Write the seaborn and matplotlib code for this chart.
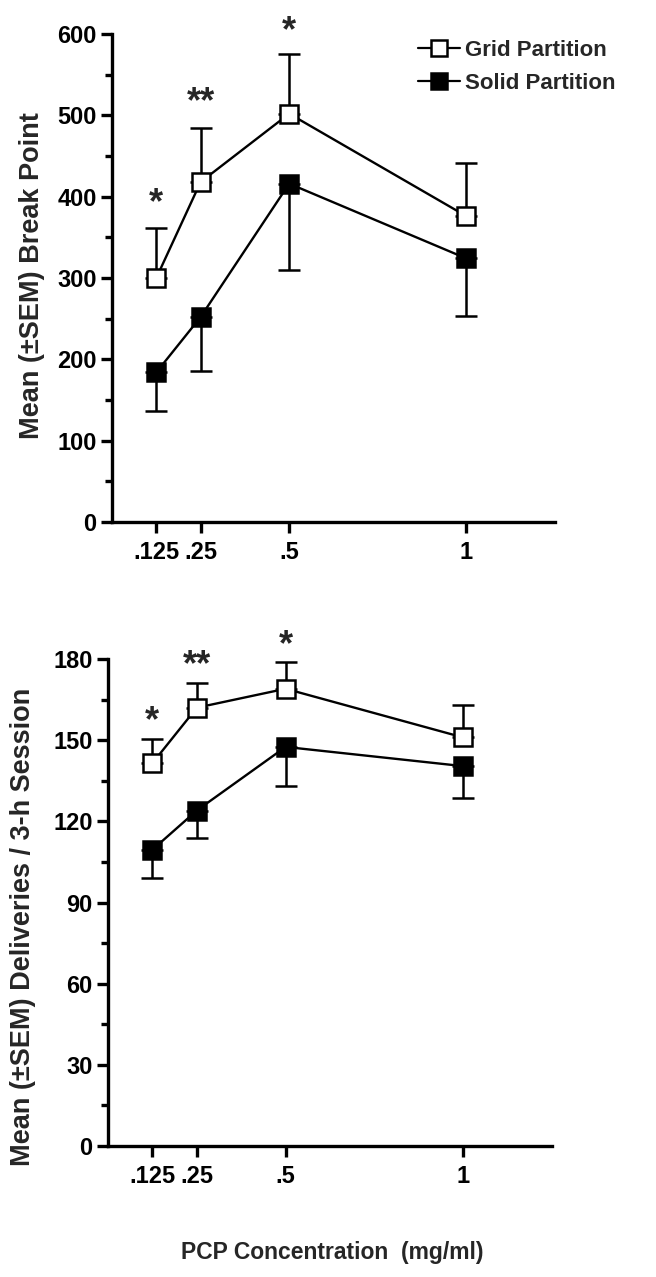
import matplotlib
matplotlib.use("Agg")
import matplotlib.pyplot as plt
from matplotlib.ticker import MultipleLocator
from matplotlib.lines import Line2D
import pandas as pd
import seaborn as sns

## DATOS ##

conc = [0.125, 0.25, 0.5, 1.0]
conc_labels = [".125", ".25", ".5", "1"]

bp_grid = [300, 418, 502, 376]
bp_grid_sem = [61, 66, 74, 66]
bp_solid = [184, 252, 416, 324]
bp_solid_sem = [48, 66, 106, 71]

del_grid = [141.5, 162, 169, 151]
del_grid_sem = [9, 9, 10, 12]
del_solid = [109.5, 124, 147.5, 140.4]
del_solid_sem = [10.5, 10, 14.5, 11.8]

# asteriscos de significancia: (x, y, texto)
stars_bp = [(0.125, 392, "*"), (0.25, 516, "**"), (0.5, 603, "*")]
stars_del = [(0.125, 157, "*"), (0.25, 177.5, "**"), (0.5, 185, "*")]

sns.set_style("ticks")
plt.rcParams["font.family"] = ["Liberation Sans", "DejaVu Sans"]
plt.rcParams["font.weight"] = "bold"


def draw_panel(ax, grid, grid_sem, solid, solid_sem, stars, ymax, ystep, ylabel):
    df = pd.DataFrame({
        "conc": conc * 2,
        "value": grid + solid,
        "group": ["Grid Partition"] * 4 + ["Solid Partition"] * 4,
    })
    # barras de error: grid hacia arriba, solid hacia abajo
    ax.errorbar(conc, grid, yerr=[[0] * 4, grid_sem], fmt="none", ecolor="black",
                elinewidth=1.8, capsize=8, capthick=1.8, zorder=2)
    ax.errorbar(conc, solid, yerr=[solid_sem, [0] * 4], fmt="none", ecolor="black",
                elinewidth=1.8, capsize=8, capthick=1.8, zorder=2)
    sns.lineplot(data=df[df.group == "Grid Partition"], x="conc", y="value", ax=ax,
                 color="black", marker="s", markersize=13, markerfacecolor="white",
                 markeredgecolor="black", markeredgewidth=1.8, linewidth=1.7, zorder=3)
    sns.lineplot(data=df[df.group == "Solid Partition"], x="conc", y="value", ax=ax,
                 color="black", marker="s", markersize=13, markerfacecolor="black",
                 markeredgecolor="black", markeredgewidth=1.8, linewidth=1.7, zorder=3)
    for x, y, s in stars:
        ax.text(x, y, s, ha="center", va="center", fontsize=26, fontweight="bold",
                clip_on=False)

    ax.set_xlim(0, 1.25)
    ax.set_ylim(0, ymax)
    ax.set_xticks(conc)
    ax.set_xticklabels(conc_labels)
    ax.yaxis.set_major_locator(MultipleLocator(ystep))
    ax.yaxis.set_minor_locator(MultipleLocator(ystep / 2))
    sns.despine(ax=ax)
    for sp in ["left", "bottom"]:
        ax.spines[sp].set_linewidth(2.4)
        ax.spines[sp].set_color("black")
    ax.tick_params(which="major", length=8, width=2.4, labelsize=17, pad=3, colors="black")
    ax.tick_params(axis="x", which="major", pad=6)
    ax.tick_params(which="minor", length=5, width=2.4, colors="black")
    ax.set_xlabel("")
    ax.set_ylabel(ylabel, fontsize=19.5, fontweight="bold")
    for lab in ax.get_xticklabels() + ax.get_yticklabels():
        lab.set_fontweight("bold")


fig = plt.figure(figsize=(6.56, 12.77), dpi=100)
ax1 = fig.add_axes([112 / 656, 1 - 522 / 1277, 443 / 656, 488 / 1277])
ax2 = fig.add_axes([108 / 656, 1 - 1146 / 1277, 444 / 656, 487 / 1277])

draw_panel(ax1, bp_grid, bp_grid_sem, bp_solid, bp_solid_sem, stars_bp, 600, 100,
           "Mean (±SEM) Break Point")
draw_panel(ax2, del_grid, del_grid_sem, del_solid, del_solid_sem, stars_del, 180, 30,
           "Mean (±SEM) Deliveries / 3-h Session")
ax1.yaxis.set_label_coords(-0.151, 0.505)
ax2.yaxis.set_label_coords(-0.162, 0.45)

handles = [
    Line2D([], [], color="black", marker="s", markersize=12, markerfacecolor="white",
           markeredgewidth=1.8, linewidth=1.6),
    Line2D([], [], color="black", marker="s", markersize=12, markerfacecolor="black",
           markeredgewidth=1.8, linewidth=1.6),
]
fig.legend(handles, ["Grid Partition", "Solid Partition"], loc="upper left",
           bbox_to_anchor=(418 / 656, 1 - 40 / 1277), frameon=False,
           handlelength=1.9, handletextpad=0.2, labelspacing=0.55, borderpad=0,
           borderaxespad=0, prop={"weight": "bold", "size": 16})

fig.text(332 / 656, 1 - 1252 / 1277, "PCP Concentration  (mg/ml)", ha="center",
         va="center", fontsize=16.5, fontweight="bold")

fig.savefig("out.png", dpi=100)
